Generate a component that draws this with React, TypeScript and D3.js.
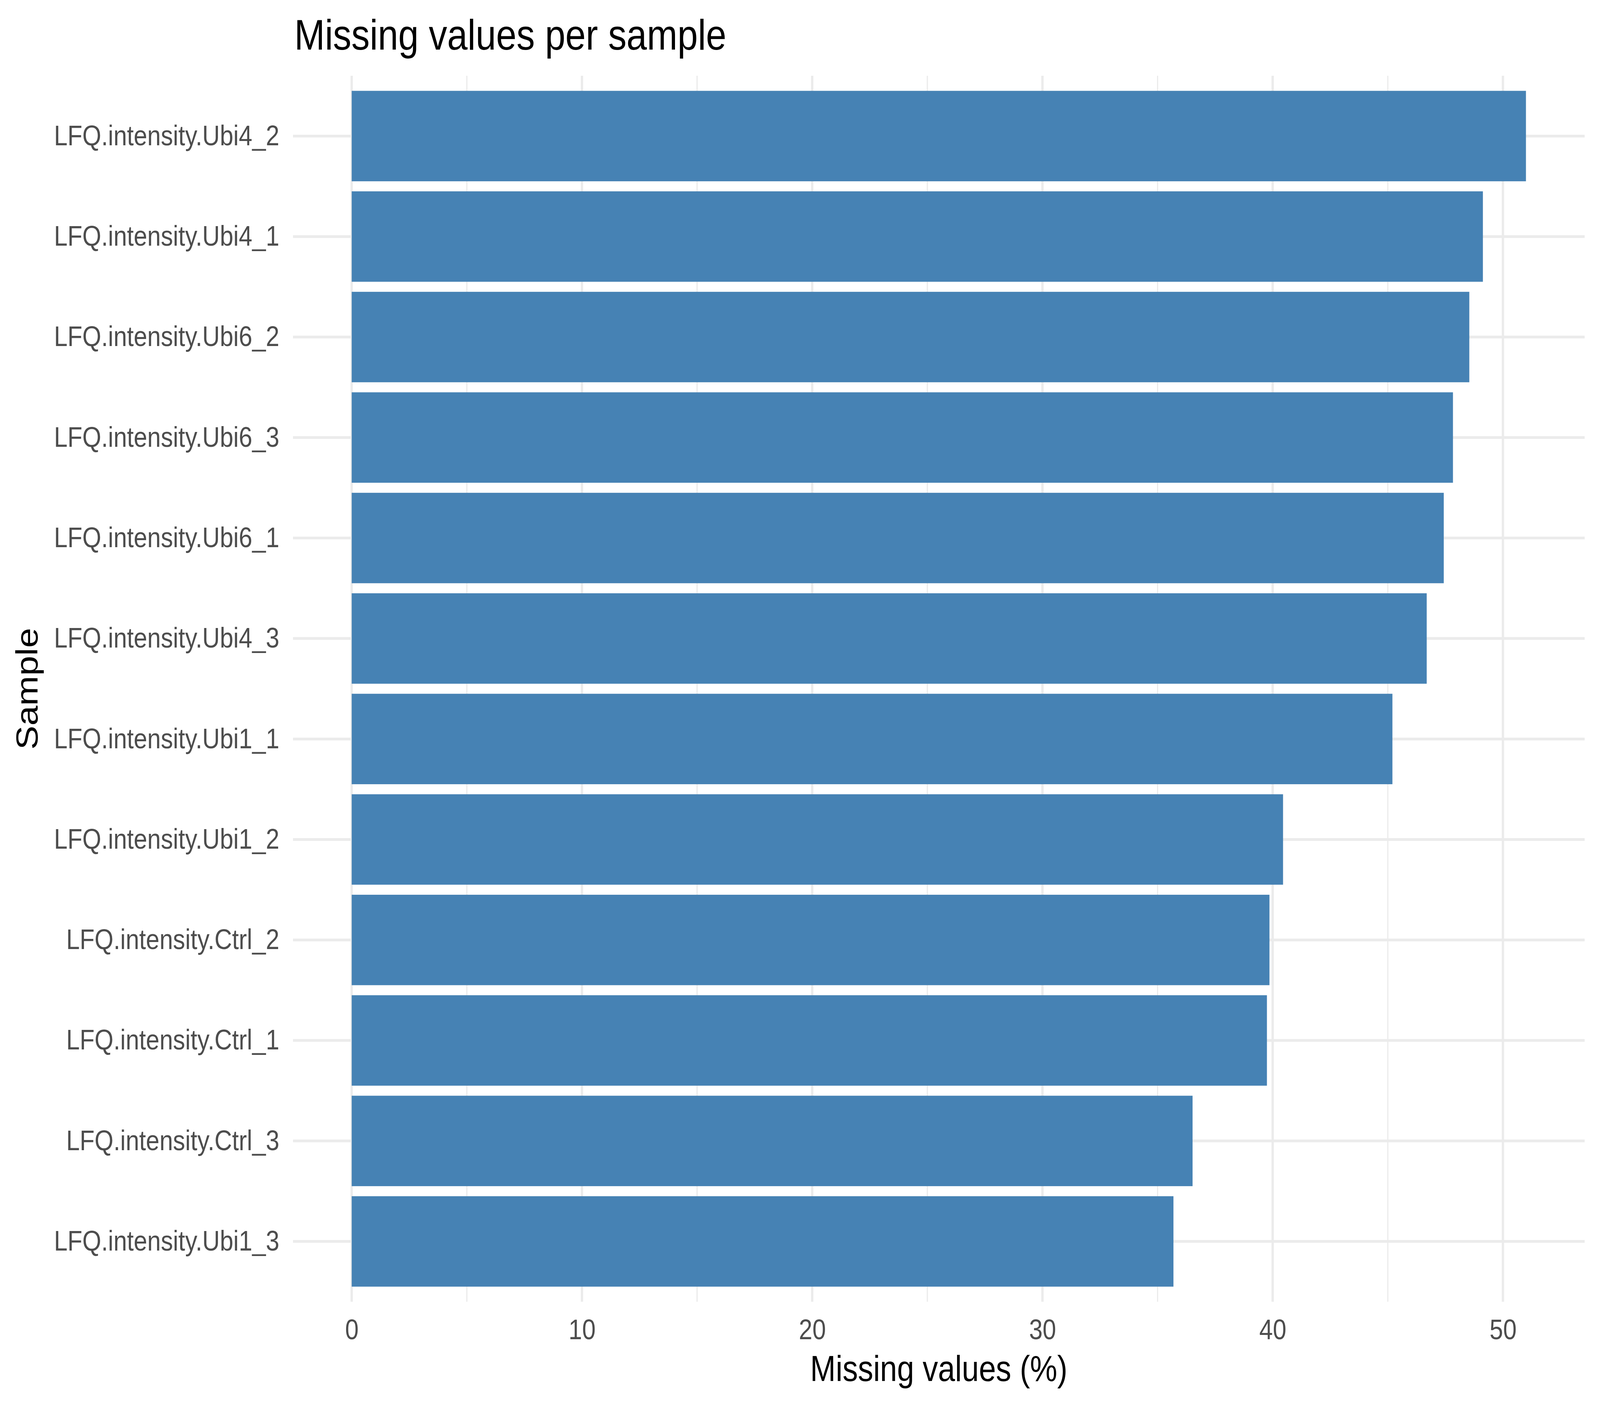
import React, { useEffect, useRef } from 'react';
import * as d3 from 'd3';

// samples from top to bottom, with their missing value share (%)
const samples = [
  'LFQ.intensity.Ubi4_2',
  'LFQ.intensity.Ubi4_1',
  'LFQ.intensity.Ubi6_2',
  'LFQ.intensity.Ubi6_3',
  'LFQ.intensity.Ubi6_1',
  'LFQ.intensity.Ubi4_3',
  'LFQ.intensity.Ubi1_1',
  'LFQ.intensity.Ubi1_2',
  'LFQ.intensity.Ctrl_2',
  'LFQ.intensity.Ctrl_1',
  'LFQ.intensity.Ctrl_3',
  'LFQ.intensity.Ubi1_3',
];
const missing = [51.0, 49.13, 48.54, 47.83, 47.43, 46.69, 45.2, 40.45, 39.86, 39.75, 36.52, 35.69];
const xTicks = [0, 10, 20, 30, 40, 50];
const xMinor = [5, 15, 25, 35, 45];

const svgWidth = 4800; // 画布坐标宽度
const svgHeight = 3600; // 画布坐标高度
const font = '"Liberation Sans", Arial, sans-serif';

const App: React.FC = () => {
  const svgRef = useRef<SVGSVGElement | null>(null);
  // the browser window can be narrower than the chart, so fill whatever it gives
  const viewW = typeof window !== 'undefined' ? Math.min(window.innerWidth, svgWidth) : svgWidth;
  const viewH = typeof window !== 'undefined' ? Math.min(window.innerHeight, svgHeight) : svgHeight;

  useEffect(() => {
    const panel = { left: 879, right: 4754, top: 194, bottom: 3333 };
    const svg = d3.select(svgRef.current);
    svg.selectAll('*').remove();

    const maxVal = d3.max(missing) ?? 0;
    const pad = maxVal * 0.05;

    const xScale = d3
      .scaleLinear()
      .domain([-pad, maxVal + pad])
      .range([panel.left, panel.right]);

    const yScale = d3
      .scaleBand<string>()
      .domain(samples)
      .range([panel.top, panel.bottom])
      .paddingInner(0.1)
      .paddingOuter(0.15);

    svg.append('rect').attr('width', svgWidth).attr('height', svgHeight).attr('fill', '#ffffff');

    // grid
    const grid = svg.append('g').attr('stroke', '#EBEBEB');
    grid
      .selectAll('line.minor')
      .data(xMinor)
      .join('line')
      .attr('class', 'minor')
      .attr('x1', (d) => xScale(d))
      .attr('x2', (d) => xScale(d))
      .attr('y1', panel.top)
      .attr('y2', panel.bottom)
      .attr('stroke-width', 3.5);
    grid
      .selectAll('line.vmajor')
      .data(xTicks)
      .join('line')
      .attr('class', 'vmajor')
      .attr('x1', (d) => xScale(d))
      .attr('x2', (d) => xScale(d))
      .attr('y1', panel.top)
      .attr('y2', panel.bottom)
      .attr('stroke-width', 7);
    grid
      .selectAll('line.hmajor')
      .data(samples)
      .join('line')
      .attr('class', 'hmajor')
      .attr('x1', panel.left)
      .attr('x2', panel.right)
      .attr('y1', (d) => (yScale(d) ?? 0) + yScale.bandwidth() / 2)
      .attr('y2', (d) => (yScale(d) ?? 0) + yScale.bandwidth() / 2)
      .attr('stroke-width', 7);

    // bars
    svg
      .append('g')
      .selectAll('rect')
      .data(samples)
      .join('rect')
      .attr('x', xScale(0))
      .attr('y', (d) => yScale(d) ?? 0)
      .attr('width', (_, i) => xScale(missing[i]) - xScale(0))
      .attr('height', yScale.bandwidth())
      .attr('fill', '#4682B4');

    // x axis
    const xAxis = svg
      .append('g')
      .attr('transform', `translate(0,${panel.bottom})`)
      .call(d3.axisBottom(xScale).tickValues(xTicks).tickSize(0).tickPadding(44));
    xAxis.select('.domain').remove();
    xAxis
      .selectAll('text')
      .attr('font-family', font)
      .attr('font-size', 73)
      .attr('fill', '#4D4D4D');

    // y axis
    const yAxis = svg
      .append('g')
      .attr('transform', `translate(${panel.left},0)`)
      .call(d3.axisLeft(yScale).tickSize(0).tickPadding(41));
    yAxis.select('.domain').remove();
    yAxis
      .selectAll('text')
      .attr('font-family', font)
      .attr('font-size', 73)
      .attr('fill', '#4D4D4D');

    // titles
    svg
      .append('text')
      .attr('x', 883)
      .attr('y', 127)
      .attr('font-family', font)
      .attr('font-size', 110)
      .attr('fill', '#000000')
      .text('Missing values per sample');

    svg
      .append('text')
      .attr('x', (panel.left + panel.right) / 2)
      .attr('y', 3536)
      .attr('text-anchor', 'middle')
      .attr('font-family', font)
      .attr('font-size', 92)
      .attr('fill', '#000000')
      .text('Missing values (%)');

    svg
      .append('text')
      .attr('transform', `translate(112,${(panel.top + panel.bottom) / 2}) rotate(-90)`)
      .attr('text-anchor', 'middle')
      .attr('font-family', font)
      .attr('font-size', 92)
      .attr('fill', '#000000')
      .text('Sample');
  }, []);

  return (
    <svg
      width={viewW}
      height={viewH}
      viewBox={`0 0 ${svgWidth} ${svgHeight}`}
      preserveAspectRatio="none"
      ref={svgRef}
      style={{ position: 'absolute', left: 0, top: 0, display: 'block' }}
    ></svg>
  );
};

export default App;
